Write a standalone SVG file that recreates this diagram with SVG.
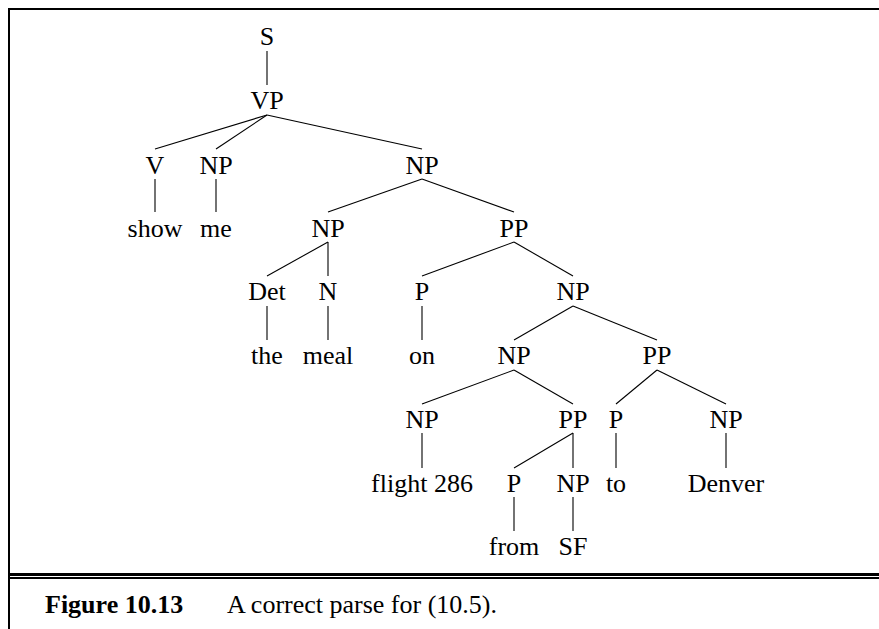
<svg xmlns="http://www.w3.org/2000/svg" width="879" height="629" viewBox="0 0 879 629">
<style>
.t{text-anchor:middle}
#edges line{stroke:#000;stroke-width:1.1}
</style>
<rect x="0" y="0" width="879" height="629" fill="#fff"/>
<g id="frame" fill="#000">
<rect x="8" y="8" width="871" height="2"/>
<rect x="8" y="8" width="2" height="621"/>
<rect x="10" y="573" width="869" height="3"/>
<rect x="10" y="577" width="869" height="2"/>
</g>
<g id="edges">
<line x1="267" y1="51" x2="267" y2="85"/>
<line x1="267" y1="115" x2="155" y2="149"/>
<line x1="267" y1="115" x2="216" y2="149"/>
<line x1="267" y1="115" x2="422" y2="149"/>
<line x1="155" y1="179" x2="155" y2="212"/>
<line x1="216" y1="179" x2="216" y2="212"/>
<line x1="422" y1="179" x2="328" y2="212"/>
<line x1="422" y1="179" x2="514" y2="212"/>
<line x1="328" y1="242" x2="267" y2="276"/>
<line x1="328" y1="242" x2="328" y2="276"/>
<line x1="514" y1="242" x2="422" y2="276"/>
<line x1="514" y1="242" x2="573" y2="276"/>
<line x1="267" y1="306" x2="267" y2="340"/>
<line x1="328" y1="306" x2="328" y2="340"/>
<line x1="422" y1="306" x2="422" y2="340"/>
<line x1="573" y1="306" x2="514" y2="340"/>
<line x1="573" y1="306" x2="657" y2="340"/>
<line x1="514" y1="370" x2="422" y2="404"/>
<line x1="514" y1="370" x2="573" y2="404"/>
<line x1="657" y1="370" x2="616" y2="404"/>
<line x1="657" y1="370" x2="726" y2="404"/>
<line x1="422" y1="433" x2="422" y2="468"/>
<line x1="573" y1="433" x2="514" y2="468"/>
<line x1="573" y1="433" x2="573" y2="468"/>
<line x1="616" y1="433" x2="616" y2="468"/>
<line x1="726" y1="433" x2="726" y2="468"/>
<line x1="514" y1="497" x2="514" y2="531"/>
<line x1="573" y1="497" x2="573" y2="531"/>
</g>
<g font-family="Liberation Serif, serif" font-size="26" fill="#000">
<g id="n-S"><text class="t" x="267" y="45">S</text></g>
<g id="n-VP"><text class="t" x="267" y="109">VP</text></g>
<g id="n-V"><text class="t" x="155" y="173.5">V</text></g>
<g id="n-NP1"><text class="t" x="216" y="173.5">NP</text></g>
<g id="n-NP2"><text class="t" x="422" y="173.5">NP</text></g>
<g id="n-show"><text class="t" x="155" y="236.5">show</text></g>
<g id="n-me"><text class="t" x="216" y="236.5">me</text></g>
<g id="n-NP3"><text class="t" x="328" y="236.5">NP</text></g>
<g id="n-PP1"><text class="t" x="514" y="236.5">PP</text></g>
<g id="n-Det"><text class="t" x="267" y="300">Det</text></g>
<g id="n-N"><text class="t" x="328" y="300">N</text></g>
<g id="n-P1"><text class="t" x="422" y="300">P</text></g>
<g id="n-NP4"><text class="t" x="573" y="300">NP</text></g>
<g id="n-the"><text class="t" x="267" y="364">the</text></g>
<g id="n-meal"><text class="t" x="328" y="364">meal</text></g>
<g id="n-on"><text class="t" x="422" y="364">on</text></g>
<g id="n-NP5"><text class="t" x="514" y="364">NP</text></g>
<g id="n-PP2"><text class="t" x="657" y="364">PP</text></g>
<g id="n-NP6"><text class="t" x="422" y="428">NP</text></g>
<g id="n-PP3"><text class="t" x="573" y="428">PP</text></g>
<g id="n-P2"><text class="t" x="616" y="428">P</text></g>
<g id="n-NP7"><text class="t" x="726" y="428">NP</text></g>
<g id="n-flight"><text class="t" x="422" y="491.5">flight 286</text></g>
<g id="n-P3"><text class="t" x="514" y="491.5">P</text></g>
<g id="n-NP8"><text class="t" x="573" y="491.5">NP</text></g>
<g id="n-to"><text class="t" x="616" y="491.5">to</text></g>
<g id="n-Denver"><text class="t" x="726" y="491.5">Denver</text></g>
<g id="n-from"><text class="t" x="514" y="555">from</text></g>
<g id="n-SF"><text class="t" x="573" y="555">SF</text></g>
<g id="caption">
<text font-weight="bold" x="45" y="613">Figure 10.13</text>
<text x="227" y="613">A correct parse for (10.5).</text>
</g>
</g>
</svg>
